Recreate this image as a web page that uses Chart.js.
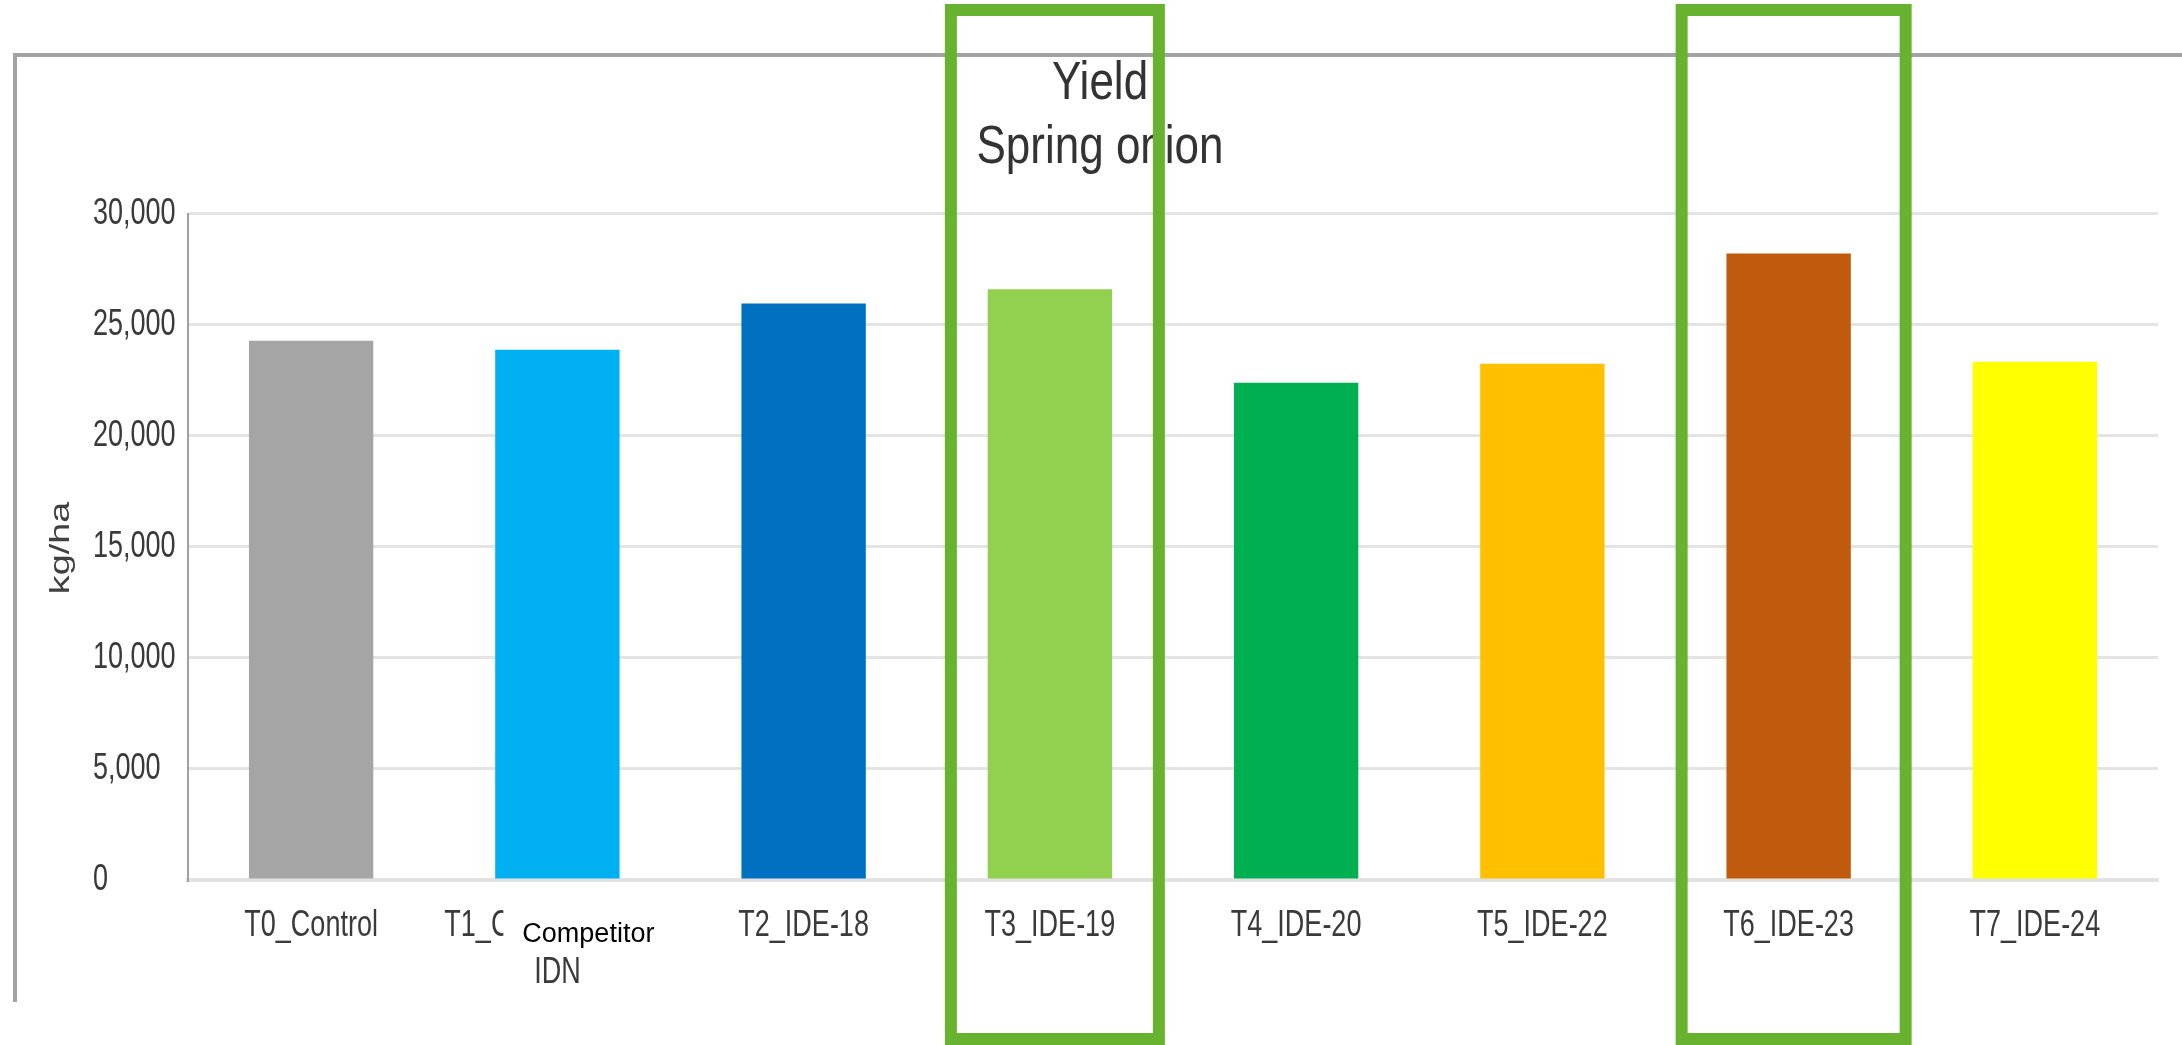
<!DOCTYPE html>
<html>
<head>
<meta charset="utf-8">
<script src="https://cdn.jsdelivr.net/npm/chart.js@4.4.1/dist/chart.umd.min.js"></script>
<style>
  html, body { margin: 0; padding: 0; background: #fff; }
  #wrap { width: 2182px; height: 1045px; }
</style>
</head>
<body>
<div id="wrap"><canvas id="yieldChart" width="2182" height="1045"></canvas></div>
<script>
// data
const categories = ["T0_Control", ["T1_COMPETITOR", "IDN"], "T2_IDE-18", "T3_IDE-19", "T4_IDE-20", "T5_IDE-22", "T6_IDE-23", "T7_IDE-24"];
const yieldKgHa = [24280, 23870, 25950, 26600, 22390, 23240, 28200, 23330];
const barColors = ["#a5a5a5", "#00b0f0", "#0070c0", "#92d050", "#00b050", "#ffc000", "#c05a0c", "#ffff00"];
const yTicks = [0, 5000, 10000, 15000, 20000, 25000, 30000];
const titleLines = ["Yield", "Spring onion"];
const yTitle = "kg/ha";
const highlighted = [3, 6];          // categories boxed in green
const competitorNote = "Competitor"; // note pasted over T1 label

const fontFamily = "'Liberation Sans', Arial, sans-serif";

// the source image was stretched vertically, so chart text looks condensed;
// draw chart text taller around its anchor point to get the same look
const canvas = document.getElementById('yieldChart');
const ctx2d = canvas.getContext('2d');
const plainFillText = ctx2d.fillText;
ctx2d.fillText = function (text, x, y, maxWidth) {
    const m = /(\d+(?:\.\d+)?)px/.exec(this.font);
    const size = m ? parseFloat(m[1]) : 12;
    const k = size > 40 ? 1.2 : 1.35;
    this.save();
    this.translate(x, y);
    this.scale(1, k);
    if (maxWidth === undefined) plainFillText.call(this, text, 0, 0);
    else plainFillText.call(this, text, 0, 0, maxWidth);
    this.restore();
};

const overlay = {
    id: 'overlay',
    afterLayout(chart) {
        // tick labels are left aligned at this x in the original
        chart.scales.y.left = 93;
    },
    beforeDraw(chart) {
        const ctx = chart.ctx;
        ctx.save();
        ctx.fillStyle = '#fff';
        ctx.fillRect(0, 0, chart.width, chart.height);
        ctx.strokeStyle = '#a3a3a3';
        ctx.lineWidth = 4;
        ctx.beginPath();
        ctx.moveTo(15, 1002);
        ctx.lineTo(15, 55);
        ctx.lineTo(chart.width, 55);
        ctx.stroke();
        ctx.restore();
    },
    afterDraw(chart) {
        const ctx = chart.ctx;
        const x = chart.scales.x;
        ctx.save();

        // y axis title (stretched like the source)
        ctx.save();
        ctx.translate(61, 548);
        ctx.rotate(-Math.PI / 2);
        ctx.scale(1.35, 1);
        ctx.font = '28px ' + fontFamily;
        ctx.fillStyle = '#404040';
        ctx.textAlign = 'center';
        ctx.textBaseline = 'middle';
        plainFillText.call(ctx, yTitle, 0, 0);
        ctx.restore();

        // white note over the T1 label
        const c1 = x.getPixelForValue(1);
        ctx.fillStyle = '#fff';
        ctx.fillRect(c1 - 54, 907, 170, 49);
        ctx.fillStyle = '#000';
        ctx.font = '27px ' + fontFamily;
        ctx.textAlign = 'center';
        ctx.textBaseline = 'alphabetic';
        plainFillText.call(ctx, competitorNote, c1 + 31, 942);

        // green highlight boxes
        const halfW = [110, 118];
        ctx.strokeStyle = '#67b22f';
        ctx.lineWidth = 12;
        highlighted.forEach((idx, k) => {
            const cx = x.getPixelForValue(idx) + 5;
            ctx.strokeRect(cx - halfW[k] + 6, 10, 2 * halfW[k] - 12, 1029);
        });
        ctx.restore();
    }
};

new Chart(canvas, {
    type: 'bar',
    plugins: [overlay],
    data: {
        labels: categories,
        datasets: [{
            data: yieldKgHa,
            backgroundColor: barColors,
            borderWidth: 0,
            categoryPercentage: 1,
            barPercentage: 0.505
        }]
    },
    options: {
        responsive: false,
        animation: false,
        layout: { padding: { left: 42, right: 24, top: 0, bottom: 0 } },
        plugins: {
            legend: { display: false },
            tooltip: { enabled: false },
            title: {
                display: true,
                text: titleLines,
                color: '#333',
                font: { family: fontFamily, size: 44, weight: 'normal', lineHeight: 1.45 },
                padding: { top: 53, bottom: 33 }
            }
        },
        scales: {
            x: {
                grid: { display: false },
                border: { color: '#e2e2e2', width: 4 },
                ticks: {
                    color: '#3a3a3a',
                    padding: 15,
                    maxRotation: 0,
                    autoSkip: false,
                    font: { family: fontFamily, size: 27, lineHeight: 1.72 }
                },
                afterFit(scale) { scale.height = 165; }
            },
            y: {
                min: 0,
                max: 30000,
                grid: { color: '#e4e4e4', lineWidth: 3, drawTicks: false },
                border: { color: '#a0a0a0', width: 2 },
                afterBuildTicks(scale) { scale.ticks = yTicks.map(v => ({ value: v })); },
                ticks: {
                    color: '#3a3a3a',
                    crossAlign: 'far',
                    font: { family: fontFamily, size: 27 },
                    callback: v => v.toLocaleString('en-US')
                },
                afterFit(scale) { scale.width = 146; }
            }
        }
    }
});
</script>
</body>
</html>
